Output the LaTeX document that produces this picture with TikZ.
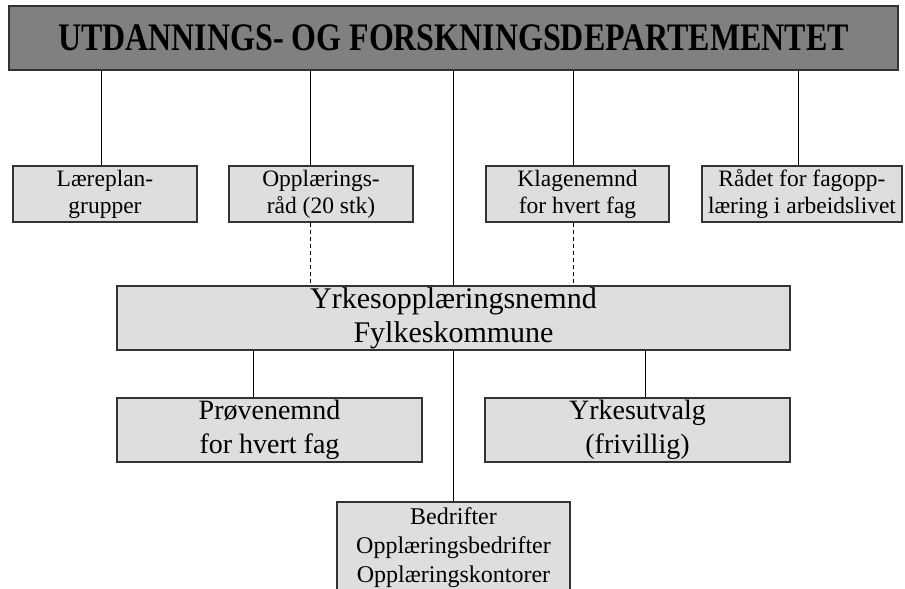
\documentclass[tikz,border=0pt]{standalone}
\usepackage{fontspec}
\setmainfont{Liberation Serif}
\usepackage{graphicx}
\usetikzlibrary{positioning}

\tikzset{
  box/.style={draw=black!80, line width=0.75pt, fill=black!13, align=center, inner sep=0pt},
  dept/.style={box, fill=black!50, minimum width=444.5pt, minimum height=32pt,
    font=\fontsize{19.5}{21}\selectfont\bfseries},
  council/.style={box, minimum height=28pt, font=\fontsize{11.75}{13.5}\selectfont},
  county/.style={box, minimum height=32pt, font=\fontsize{15}{17}\selectfont},
  local/.style={box, minimum width=152.5pt, minimum height=32pt, font=\fontsize{14}{17}\selectfont},
  firm/.style={box, minimum width=116.5pt, minimum height=46pt, font=\fontsize{12}{14.5}\selectfont},
  link/.style={line width=0.5pt},
  loose/.style={link, dash pattern=on 2pt off 1.5pt}
}

\begin{document}
\begin{tikzpicture}[x=0.5pt, y=-0.5pt]
    \useasboundingbox (0,0) rectangle (905,589);

    \node[dept] (uf) at (453.5,38) {\scalebox{0.82}[1]{UTDANNINGS- OG FORSKNINGSDEPARTEMENTET}};
    \node[council, minimum width=92pt] (lp) at (105,194) {Læreplan-\\grupper};
    \node[council, minimum width=92pt] (or) at (321,194) {Opplærings-\\råd (20 stk)};
    \node[council, minimum width=91.5pt] (kn) at (577.5,194) {Klagenemnd\\for hvert fag};
    \node[council, minimum width=100pt] (rf) at (802,194) {Rådet for fagopp-\\læring i arbeidslivet};
    \node[county, minimum width=336.5pt] (yn) at (453.5,318) {Yrkesopplæringsnemnd\\Fylkeskommune};
    \node[local] (pn) at (269.5,430) {Prøvenemnd\\for hvert fag};
    \node[local] (yu) at (637.5,430) {Yrkesutvalg\\(frivillig)};
    \node[firm] (bd) at (453.5,548) {Bedrifter\\Opplæringsbedrifter\\Opplæringskontorer};

    % where the lines run
    \coordinate (lpx) at (101,0);
    \coordinate (orx) at (310,0);
    \coordinate (knx) at (573,0);
    \coordinate (rfx) at (798,0);
    \coordinate (pnx) at (253,0);
    \coordinate (yux) at (645,0);

    % Connect the nodes
    \draw[link] (uf.south -| lpx) -- (lp.north -| lpx); %
    \draw[link] (uf.south -| orx) -- (or.north -| orx); %
    \draw[link] (uf.south -| knx) -- (kn.north -| knx); %
    \draw[link] (uf.south -| rfx) -- (rf.north -| rfx); %
    \draw[link] (uf.south) -- (yn.north); %
    \draw[loose] (or.south -| orx) -- (yn.north -| orx); %
    \draw[loose] (kn.south -| knx) -- (yn.north -| knx); %
    \draw[link] (yn.south -| pnx) -- (pn.north -| pnx); %
    \draw[link] (yn.south -| yux) -- (yu.north -| yux); %
    \draw[link] (yn.south) -- (bd.north); %
\end{tikzpicture}
\end{document}
